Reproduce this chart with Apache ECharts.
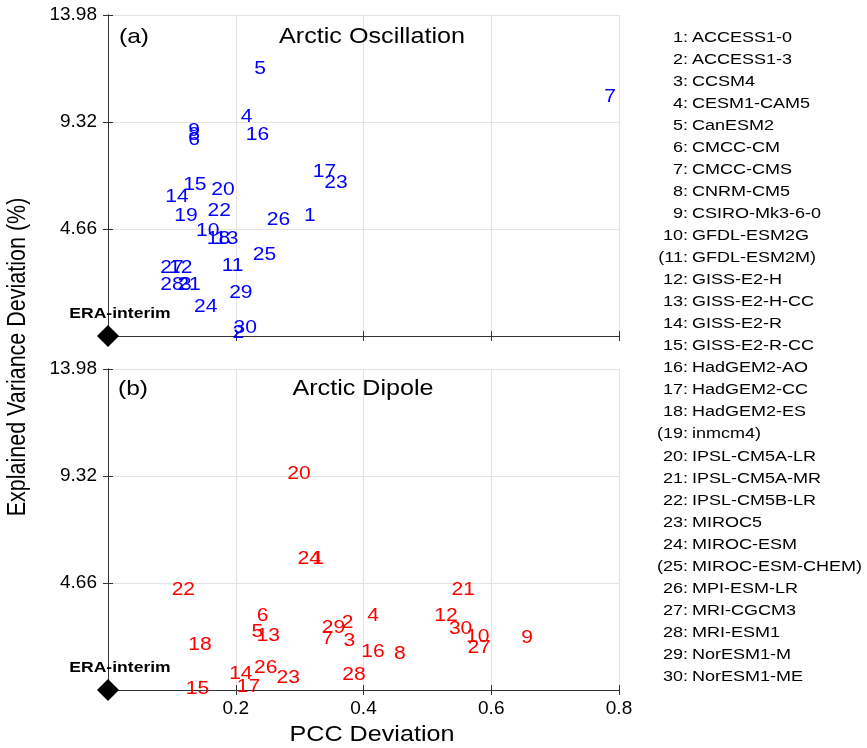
<!DOCTYPE html>
<html>
<head>
<meta charset="utf-8">
<script src="https://cdn.jsdelivr.net/npm/echarts@6/dist/echarts.min.js"></script>
<style>html,body{margin:0;padding:0;background:#fff}#c{width:867px;height:748px}</style>
</head>
<body>
<div id="c"></div>
<script>
// ---- data ----
const modelIds = [1,2,3,4,5,6,7,8,9,10,11,12,13,14,15,16,17,18,19,20,21,22,23,24,25,26,27,28,29,30];
const modelNames = ['ACCESS1-0','ACCESS1-3','CCSM4','CESM1-CAM5','CanESM2','CMCC-CM','CMCC-CMS','CNRM-CM5','CSIRO-Mk3-6-0','GFDL-ESM2G','GFDL-ESM2M','GISS-E2-H','GISS-E2-H-CC','GISS-E2-R','GISS-E2-R-CC','HadGEM2-AO','HadGEM2-CC','HadGEM2-ES','inmcm4','IPSL-CM5A-LR','IPSL-CM5A-MR','IPSL-CM5B-LR','MIROC5','MIROC-ESM','MIROC-ESM-CHEM','MPI-ESM-LR','MRI-CGCM3','MRI-ESM1','NorESM1-M','NorESM1-ME'];
const excludedModels = [11,19,25];
// (a) Arctic Oscillation
const aoPCC = [0.316,0.204,0.122,0.217,0.238,0.135,0.786,0.135,0.135,0.156,0.195,0.114,0.186,0.108,0.136,0.234,0.339,0.173,0.122,0.180,0.127,0.174,0.357,0.153,0.245,0.267,0.100,0.100,0.208,0.215];
const aoEVD = [5.24,0.12,2.22,9.55,11.63,8.54,10.41,8.75,8.93,4.57,3.06,2.95,4.21,6.07,6.58,8.75,7.16,4.21,5.24,6.36,2.22,5.46,6.65,1.25,3.53,5.05,2.95,2.22,1.86,0.34];
// (b) Arctic Dipole
const adPCC = [0.329,0.375,0.378,0.415,0.234,0.242,0.344,0.457,0.656,0.579,null,0.529,0.251,0.208,0.140,0.415,0.220,0.144,null,0.299,0.556,0.118,0.282,0.315,null,0.247,0.581,0.385,0.353,0.552];
const adEVD = [5.69,2.90,2.13,3.24,2.54,3.24,2.22,1.55,2.25,2.32,null,3.24,2.35,0.70,0.04,1.67,0.14,1.96,null,9.41,4.36,4.36,0.54,5.69,null,0.94,1.82,0.65,2.69,2.66];
const eraPoint = [0, 0];
const xTicks = {min:0, max:0.8, interval:0.2};
const yTicks = {min:0, max:13.98, interval:4.66};
const panelTitles = ['Arctic Oscillation','Arctic Dipole'];
const panelTags = ['(a)','(b)'];

// ---- chart ----
const FONT = '"Liberation Sans", Arial, Helvetica, sans-serif';
const SX = 1.17;
const chart = echarts.init(document.getElementById('c'), null, {renderer:'canvas'});

function pts(xs, ys){
  const out = [];
  for (let i=0;i<modelIds.length;i++){
    if (xs[i]==null || ys[i]==null) continue;
    out.push([xs[i], ys[i], modelIds[i]]);
  }
  return out;
}
function numberSeries(idx, data, color){
  return {
    type:'custom', xAxisIndex:idx*2, yAxisIndex:idx*2, clip:false, z:5,
    data:data,
    renderItem:function(params, api){
      const p = api.coord([api.value(0), api.value(1)]);
      return {type:'text', x:p[0], y:p[1], scaleX:SX,
        style:{text:String(api.value(2)), fill:color, font:'18px '+FONT, align:'center', verticalAlign:'middle'}};
    }
  };
}
function eraSeries(idx){
  return [{
    type:'scatter', xAxisIndex:idx*2, yAxisIndex:idx*2, clip:false, z:6,
    symbol:'diamond', symbolSize:22, itemStyle:{color:'#000', opacity:1},
    data:[eraPoint], silent:true
  },{
    type:'custom', xAxisIndex:idx*2, yAxisIndex:idx*2, clip:false, z:6,
    data:[eraPoint],
    renderItem:function(params, api){
      const p = api.coord([api.value(0), api.value(1)]);
      return {type:'text', x:p[0]+12, y:p[1]-22, scaleX:SX,
        style:{text:'ERA-interim', fill:'#000', font:'bold 15px '+FONT, align:'center', verticalAlign:'middle'}};
    }
  }];
}
const grids = [
  {left:108, top:15, width:511, height:321, show:false},
  {left:108, top:369, width:511, height:321, show:false}
];
const axisLineStyle = {lineStyle:{color:'#333', width:1}};
const xAxes = [], yAxes = [];
for (let g=0; g<2; g++){
  xAxes.push({type:'value', gridIndex:g, position:'bottom', min:xTicks.min, max:xTicks.max, interval:xTicks.interval,
    axisLine:axisLineStyle, axisTick:{inside:true, length:5, lineStyle:{color:'#333'}},
    splitLine:{show:true, lineStyle:{color:'#e3e3e3', width:1}},
    axisLabel:{show:g===1, margin:9, color:'#000', fontSize:19, fontFamily:FONT,
      formatter:function(v){return Math.abs(v)<1e-9?'':v.toFixed(1);}}});
  xAxes.push({type:'value', gridIndex:g, position:'top', min:xTicks.min, max:xTicks.max, interval:xTicks.interval,
    axisLine:axisLineStyle, axisTick:{inside:true, length:5, lineStyle:{color:'#333'}},
    splitLine:{show:false}, axisLabel:{show:false}});
  yAxes.push({type:'value', gridIndex:g, position:'left', min:yTicks.min, max:yTicks.max, interval:yTicks.interval,
    axisLine:axisLineStyle, axisTick:{inside:true, length:5, lineStyle:{color:'#333'}},
    splitLine:{show:true, lineStyle:{color:'#e3e3e3', width:1}},
    axisLabel:{show:true, margin:11, color:'#000', fontSize:19, fontFamily:FONT,
      formatter:function(v){return Math.abs(v)<1e-9?'':v.toFixed(2);}}});
  yAxes.push({type:'value', gridIndex:g, position:'right', min:yTicks.min, max:yTicks.max, interval:yTicks.interval,
    axisLine:axisLineStyle, axisTick:{inside:true, length:5, lineStyle:{color:'#333'}},
    splitLine:{show:false}, axisLabel:{show:false}});
}

const graphics = [];
function txt(x, y, text, size, opts){
  opts = opts || {};
  graphics.push(Object.assign({type:'text', x:x, y:y, scaleX:opts.rot?1:SX, scaleY:opts.rot?SX:1, rotation:opts.rot||0, z:10,
    style:{text:text, fill:'#000', font:(opts.weight||'normal')+' '+size+'px '+FONT, align:opts.align||'center', verticalAlign:'middle'}}));
}
// panel titles
txt(134, 37, panelTags[0], 21);
txt(372, 37, panelTitles[0], 21.5);
txt(133, 389, panelTags[1], 21);
txt(363, 389, panelTitles[1], 21.5);
// axis titles
txt(372, 735, 'PCC Deviation', 21.5);
txt(18, 357, 'Explained Variance Deviation (%)', 21.5, {rot:Math.PI/2});
// model legend
for (let i=0;i<modelIds.length;i++){
  const ex = excludedModels.indexOf(modelIds[i])>=0;
  const y = 37.3 + i*22.05;
  txt(688, y, (ex?'(':'')+modelIds[i]+':', 15.4, {align:'right'});
  txt(692, y, modelNames[i]+(ex?')':''), 15.4, {align:'left'});
}

chart.setOption({
  animation:false,
  backgroundColor:'#fff',
  grid:grids,
  xAxis:xAxes,
  yAxis:yAxes,
  graphic:graphics,
  series:[
    numberSeries(0, pts(aoPCC, aoEVD), '#0000ff'),
    numberSeries(1, pts(adPCC, adEVD), '#ff0000'),
    ...eraSeries(0),
    ...eraSeries(1)
  ]
});
</script>
</body>
</html>
